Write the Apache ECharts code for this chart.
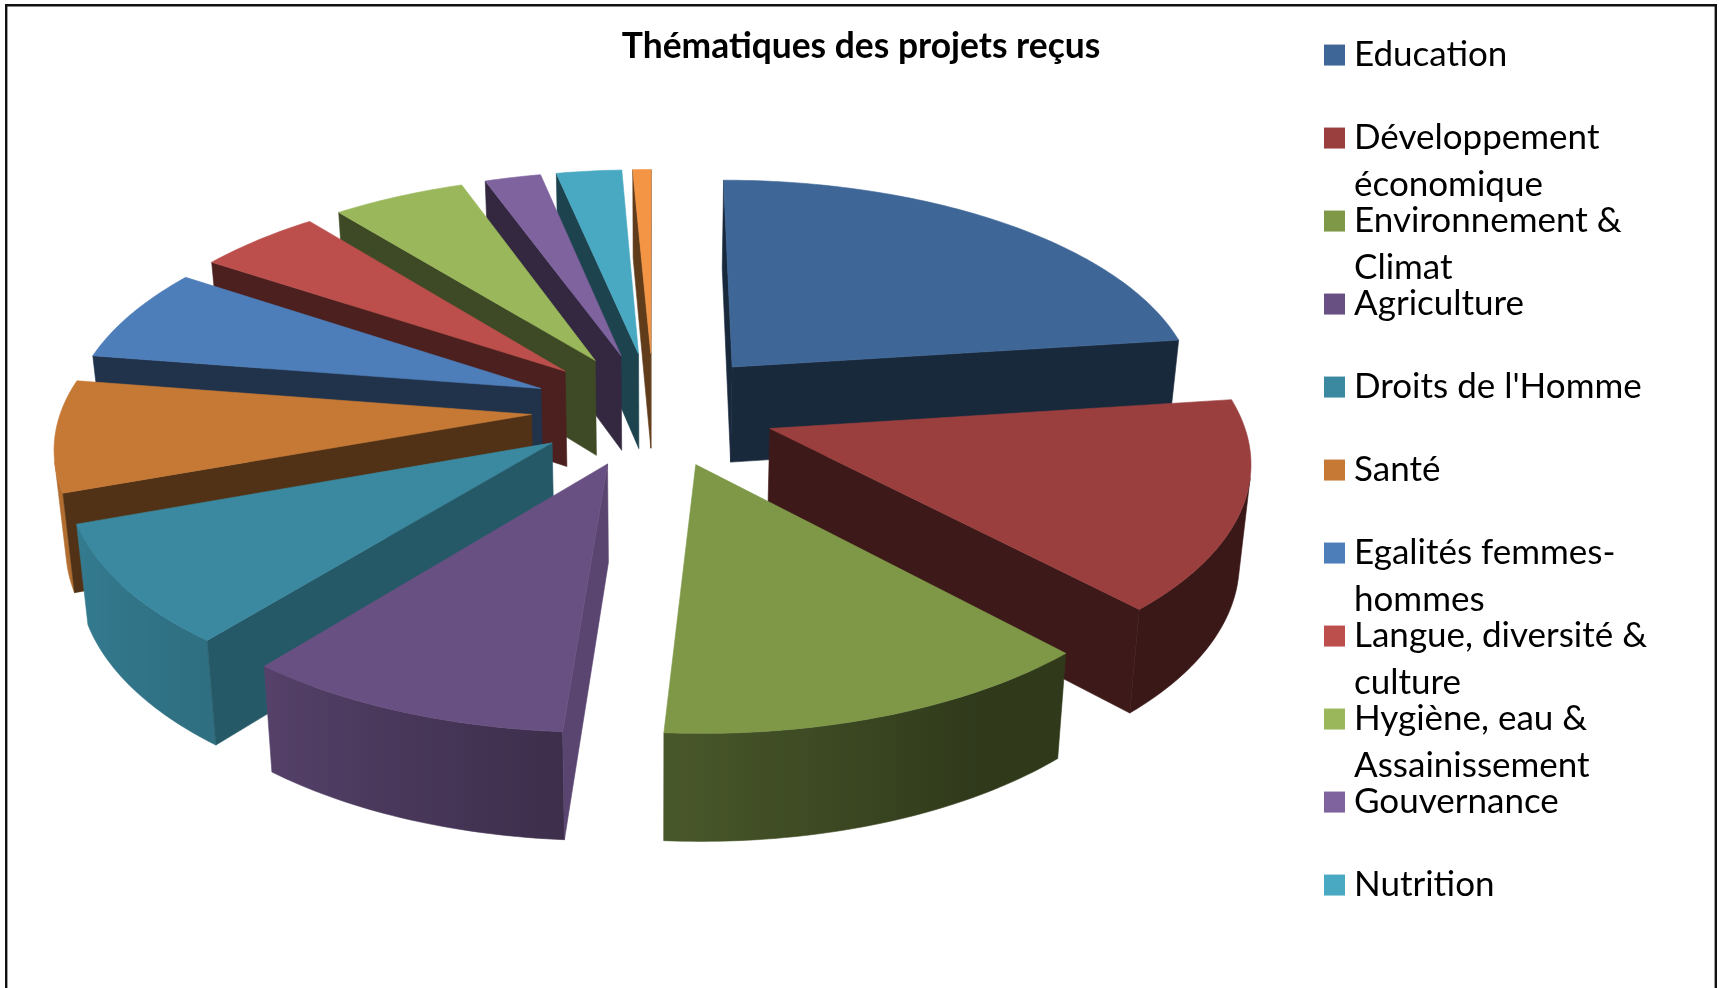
<!DOCTYPE html>
<html>

<head>
  <meta charset="UTF-8">
  <title>Thématiques des projets reçus</title>
  <script src="https://cdn.jsdelivr.net/npm/echarts@6/dist/echarts.min.js"></script>
  <style>
    html, body { margin: 0; padding: 0; background: #fff; overflow: hidden; }
    #main { width: 1721px; height: 988px; }
  </style>
</head>

<body>
  <div id="main"></div>
  <script type="text/javascript">
    // values (share of the pie, in %)
    var chartTitle = 'Thématiques des projets reçus';
    var categories = ['Education', 'Développement\néconomique', 'Environnement &\nClimat', 'Agriculture',
      'Droits de l\'Homme', 'Santé', 'Egalités femmes-\nhommes', 'Langue, diversité &\nculture',
      'Hygiène, eau &\nAssainissement', 'Gouvernance', 'Nutrition', 'Autres'];
    var values = [22.9, 15.1, 13.05, 9.7, 8.67, 8.0, 6.83, 4.9, 5.25, 2.22, 2.58, 0.72];
    var colors = ['#3e6797', '#9a3f3e', '#7e9848', '#695082', '#3a89a0', '#c67935',
      '#4e7eb9', '#bc4f4c', '#9ab85b', '#7f639f', '#49a9c3', '#f39544'];
    // the last slice has no entry in the reference legend
    var legendNames = categories.slice(0, 11);

    // 3D pie camera, fitted on the picture
    var cx = 653.5, cy = 409;
    var radiusX = 470, radiusY = 220, depth = 98.5;
    var persp = 0.125, perspZ = 0.02, explode = 0.26;

    var total = values.reduce(function (a, b) { return a + b; }, 0);

    function project(X, Y, z) {
      var w = (1 - persp * Y) * (1 + perspZ * z);
      return [cx + radiusX * X / w, cy + (radiusY * Y + depth * z) / w];
    }

    function shade(hex, f) {
      var n = parseInt(hex.slice(1), 16);
      return 'rgb(' + Math.round((n >> 16) * f) + ',' + Math.round(((n >> 8) & 255) * f) + ',' + Math.round((n & 255) * f) + ')';
    }

    function lerpStops(stops, a) {
      if (a <= stops[0][0]) return stops[0][1];
      for (var i = 1; i < stops.length; i++) {
        if (a <= stops[i][0]) {
          var t = (a - stops[i - 1][0]) / (stops[i][0] - stops[i - 1][0]);
          return stops[i - 1][1] + t * (stops[i][1] - stops[i - 1][1]);
        }
      }
      return stops[stops.length - 1][1];
    }

    // shading of the rim and of the flat cut faces, by angle
    var rimLight = [[150, 0.38], [184, 0.58], [219, 0.81], [250, 0.9], [280, 0.95]];
    var startLight = [[100, 0.4], [184, 0.86], [219, 0.65], [250, 0.41], [360, 0.4]];

    function area(pts) {
      var s = 0;
      for (var i = 0; i < pts.length; i++) {
        var p = pts[i], q = pts[(i + 1) % pts.length];
        s += p[0] * q[1] - q[0] * p[1];
      }
      return s;
    }

    function face(pts, fill) {
      return {
        type: 'polygon',
        silent: true,
        shape: { points: pts },
        style: { fill: fill, stroke: fill, lineWidth: 0.6 }
      };
    }

    // rim of a slice: one polygon, shaded left to right along the visible arc
    function rimFace(upper, lower, angles, color) {
      var xs = upper.map(function (p) { return p[0]; });
      var x0 = Math.min.apply(null, xs), x1 = Math.max.apply(null, xs);
      var stops = upper.map(function (p, i) {
        return { offset: x1 > x0 ? (p[0] - x0) / (x1 - x0) : 0, color: shade(color, lerpStops(rimLight, angles[i])) };
      }).sort(function (a, b) { return a.offset - b.offset; });
      var fill = { type: 'linear', x: x0, y: 0, x2: x1, y2: 0, global: true, colorStops: stops };
      return {
        type: 'polygon',
        silent: true,
        shape: { points: upper.concat(lower.slice().reverse()) },
        style: { fill: fill, stroke: fill, lineWidth: 0.6 }
      };
    }

    function renderSlice(params, api) {
      var color = colors[params.seriesIndex];
      var a0 = api.value(0) / total * 360;
      var a1 = a0 + api.value(1) / total * 360;
      var mid = (a0 + a1) / 2 * Math.PI / 180;
      var ox = explode * Math.sin(mid), oy = -explode * Math.cos(mid);

      function rim(a, z) {
        var r = a * Math.PI / 180;
        return project(ox + Math.sin(r), oy - Math.cos(r), z);
      }
      var children = [];
      var topPts = [project(ox, oy, 0)];
      var upper = [], lower = [], seen = [];
      var n = Math.max(2, Math.ceil(a1 - a0));
      for (var i = 0; i <= n; i++) {
        var a = a0 + (a1 - a0) * i / n;
        topPts.push(rim(a, 0));
        if (i < n) {
          var b = a0 + (a1 - a0) * (i + 1) / n;
          if (area([rim(a, 0), rim(b, 0), rim(b, 1), rim(a, 1)]) < 0) {
            if (!seen.length) {
              upper.push(rim(a, 0)); lower.push(rim(a, 1)); seen.push(a);
            }
            upper.push(rim(b, 0)); lower.push(rim(b, 1)); seen.push(b);
          }
        }
      }
      if (seen.length) children.push(rimFace(upper, lower, seen, color));
      // flat cut faces of the slice
      var endFace = [project(ox, oy, 0), rim(a1, 0), rim(a1, 1), project(ox, oy, 1)];
      if (area(endFace) > 0) children.push(face(endFace, shade(color, 0.4)));
      var startFace = [project(ox, oy, 0), rim(a0, 0), rim(a0, 1), project(ox, oy, 1)];
      if (area(startFace) < 0) children.push(face(startFace, shade(color, lerpStops(startLight, a0))));
      children.push(face(topPts, color));
      return { type: 'group', children: children };
    }

    // back slices are drawn first
    var cum = 0;
    var starts = values.map(function (v) { var s = cum; cum += v; return s; });
    var order = values.map(function (v, i) {
      return -Math.cos((starts[i] + v / 2) / total * 2 * Math.PI);
    });
    var sorted = order.slice().sort(function (a, b) { return a - b; });

    var seriesList = categories.map(function (name, i) {
      return {
        type: 'custom',
        name: name,
        coordinateSystem: 'none',
        renderItem: renderSlice,
        z: 2 + sorted.indexOf(order[i]),
        silent: true,
        animation: false,
        itemStyle: { color: colors[i] },
        data: [[starts[i], values[i]]]
      };
    });

    var myChart = echarts.init(document.getElementById('main'));

    var option = {
      backgroundColor: '#fff',
      animation: false,
      title: {
        text: chartTitle,
        left: 856,
        top: 24,
        textAlign: 'center',
        textStyle: { fontFamily: 'Lato', fontWeight: 'bold', fontSize: 35.4, color: '#000' }
      },
      legend: {
        orient: 'vertical',
        left: 1324,
        top: -15,
        padding: 0,
        // every entry is 3 lines with a blank first line, so the swatch sits on the name
        itemGap: -57.1,
        itemWidth: 21,
        itemHeight: 21,
        icon: 'rect',
        selectedMode: false,
        data: legendNames,
        formatter: function (name) {
          var lines = name.split('\n');
          return '\n' + lines[0] + '\n' + (lines[1] || ' ');
        },
        textStyle: { fontFamily: 'Lato', fontSize: 35, lineHeight: 46.7, color: '#000', padding: [0, 0, 0, 4] }
      },
      graphic: [{
        type: 'rect',
        silent: true,
        shape: { x: 6.2, y: 5.2, width: 1709.6, height: 1100 },
        style: { fill: 'none', stroke: '#111', lineWidth: 2.4 }
      }],
      series: seriesList
    };

    myChart.setOption(option);
  </script>
</body>

</html>
